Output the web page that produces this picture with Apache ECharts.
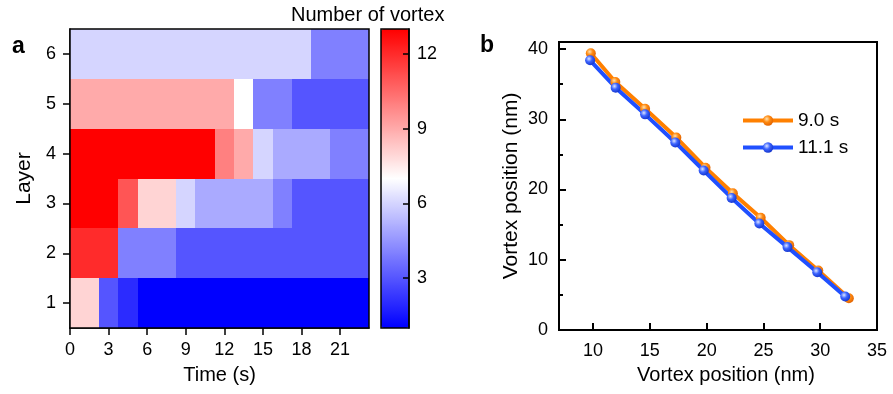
<!DOCTYPE html>
<html>
<head>
<meta charset="utf-8">
<script src="https://cdn.jsdelivr.net/npm/echarts@6/dist/echarts.min.js"></script>
<style>
  html, body { margin: 0; background: #fff; }
  #chart { width: 893px; height: 394px; }
</style>
</head>
<body>
<div id="chart"></div>
<script>
// panel a: number of vortices per layer, time bins are 1.5 s wide
const times = [0, 1.5, 3, 4.5, 6, 7.5, 9, 10.5, 12, 13.5, 15, 16.5, 18, 19.5, 21, 22.5];
const layers = [1, 2, 3, 4, 5, 6];
const layer1 = [8, 8, 3, 2, 1, 1, 1, 1, 1, 1, 1, 1, 1, 1, 1, 1];
const layer2 = [12, 12, 12, 4, 4, 4, 3, 3, 3, 3, 3, 3, 3, 3, 3, 3];
const layer3 = [13, 13, 13, 11, 8, 8, 6, 5, 5, 5, 5, 4, 3, 3, 3, 3];
const layer4 = [13, 13, 13, 13, 13, 13, 13, 13, 10, 9, 6, 5, 5, 5, 4, 4];
const layer5 = [9, 9, 9, 9, 9, 9, 9, 9, 9, 7, 4, 4, 3, 3, 3, 3];
const layer6 = [6, 6, 6, 6, 6, 6, 6, 6, 6, 6, 6, 6, 6, 4, 4, 4];
const timeTicks = [0, 3, 6, 9, 12, 15, 18, 21];
const countTicks = [3, 6, 9, 12];

// panel b: vortex positions at two moments
const posX_9s = [9.8, 11.96, 14.58, 17.33, 19.9, 22.31, 24.76, 27.27, 29.83, 32.52];
const posY_9s = [39.4, 35.3, 31.5, 27.4, 23.1, 19.46, 15.98, 12.08, 8.47, 4.52];
const posX_11s = [9.74, 11.99, 14.58, 17.24, 19.74, 22.2, 24.64, 27.12, 29.74, 32.2];
const posY_11s = [38.4, 34.5, 30.7, 26.7, 22.7, 18.8, 15.17, 11.8, 8.23, 4.76];
const posXTicks = [10, 15, 20, 25, 30, 35];
const posYTicks = [0, 10, 20, 30, 40];
const posYMinor = [5, 15, 25, 35];

const FONT = 'Liberation Sans';
const HALF_BIN = 0.75;
const T_MAX = 23.25;

const rows = [layer1, layer2, layer3, layer4, layer5, layer6];
const cells = [];
rows.forEach((row, r) => row.forEach((v, i) => cells.push([times[i], layers[r], v])));

const zip = (xs, ys) => xs.map((x, i) => [x, ys[i]]);

const sphere = (light, mid, dark) => ({
  type: 'radial', x: 0.38, y: 0.35, r: 0.7,
  colorStops: [{ offset: 0, color: light }, { offset: 0.45, color: mid }, { offset: 1, color: dark }]
});

const label = { color: '#000', fontFamily: FONT, fontSize: 18 };
const black = { color: '#000', width: 1.5 };

const option = {
  animation: false,
  backgroundColor: '#fff',
  textStyle: { fontFamily: FONT },
  graphic: [
    { type: 'text', left: 12, top: 35, style: { text: 'a', font: 'bold 23px "Liberation Sans"', fill: '#000' } },
    { type: 'text', left: 480, top: 34, style: { text: 'b', font: 'bold 23px "Liberation Sans"', fill: '#000' } },
    { type: 'text', left: 291, top: 5, style: { text: 'Number of vortex', font: '20px "Liberation Sans"', fill: '#000' } }
  ],
  grid: [
    { left: 70, top: 29, width: 299, height: 299, show: true, borderColor: '#000', borderWidth: 1.5, z: 10 },
    { left: 559, top: 42, width: 318, height: 288, show: true, borderColor: '#000', borderWidth: 2, z: 10 },
    { left: 381, top: 29, width: 28, height: 299, show: true, borderColor: '#000', borderWidth: 1.5, z: 10 }
  ],
  legend: {
    left: 736, top: 106, orient: 'vertical', itemWidth: 50, itemHeight: 13, itemGap: 8,
    textStyle: { color: '#000', fontFamily: FONT, fontSize: 19 },
    lineStyle: { width: 4 },
    data: ['9.0 s', '11.1 s']
  },
  visualMap: {
    type: 'continuous', seriesIndex: 0, dimension: 2, min: 1, max: 13,
    left: 381, top: 29, itemWidth: 28, itemHeight: 299, padding: 0,
    calculable: false, text: null, showLabel: false, hoverLink: false,
    inRange: { color: ['#0000ff', '#ffffff', '#ff0000'] }
  },
  xAxis: [
    {
      gridIndex: 0, type: 'value', min: 0, max: T_MAX,
      name: 'Time (s)', nameLocation: 'middle', nameGap: 37,
      nameTextStyle: { color: '#000', fontFamily: FONT, fontSize: 20 },
      axisLine: { onZero: false, lineStyle: black },
      axisTick: { length: 7, lineStyle: black, customValues: timeTicks },
      axisLabel: { ...label, margin: 13, customValues: timeTicks },
      splitLine: { show: false }
    },
    {
      gridIndex: 1, type: 'value', min: 7, max: 35,
      name: 'Vortex position (nm)', nameLocation: 'middle', nameGap: 35,
      nameTextStyle: { color: '#000', fontFamily: FONT, fontSize: 20, padding: [0, 0, 0, 16] },
      axisLine: { onZero: false, lineStyle: { color: '#000', width: 2 } },
      axisTick: { inside: true, length: 7, lineStyle: { color: '#000', width: 2 }, customValues: posXTicks },
      axisLabel: { ...label, margin: 12, customValues: posXTicks },
      splitLine: { show: false }
    },
    { gridIndex: 2, type: 'value', min: 0, max: 1, show: false }
  ],
  yAxis: [
    {
      gridIndex: 0, type: 'value', min: 0.5, max: 6.5,
      name: 'Layer', nameLocation: 'middle', nameGap: 35,
      nameTextStyle: { color: '#000', fontFamily: FONT, fontSize: 21 },
      axisLine: { onZero: false, lineStyle: black },
      axisTick: { length: 7, lineStyle: black, customValues: layers },
      axisLabel: { ...label, margin: 14, customValues: layers },
      splitLine: { show: false }
    },
    {
      gridIndex: 1, type: 'value', min: 0, max: 41,
      name: 'Vortex position (nm)', nameLocation: 'middle', nameGap: 37,
      nameTextStyle: { color: '#000', fontFamily: FONT, fontSize: 21 },
      axisLine: { onZero: false, lineStyle: { color: '#000', width: 2 } },
      axisTick: { inside: true, length: 7, lineStyle: { color: '#000', width: 2 }, customValues: posYTicks },
      axisLabel: { ...label, margin: 11, customValues: posYTicks },
      splitLine: { show: false }
    },
    {
      gridIndex: 1, type: 'value', min: 0, max: 41, position: 'left',
      axisLine: { show: false, onZero: false },
      axisTick: { inside: true, length: 4, lineStyle: { color: '#000', width: 2 }, customValues: posYMinor },
      axisLabel: { show: false },
      splitLine: { show: false }
    },
    {
      gridIndex: 2, type: 'value', min: 1, max: 13, position: 'right', z: 12,
      axisLine: { show: true, onZero: false, lineStyle: black },
      axisTick: { inside: true, length: 6, lineStyle: black, customValues: countTicks },
      axisLabel: { ...label, margin: 8, customValues: countTicks },
      splitLine: { show: false }
    }
  ],
  series: [
    {
      type: 'custom',
      xAxisIndex: 0, yAxisIndex: 0,
      encode: { x: 0, y: 1 },
      data: cells,
      renderItem: (params, api) => {
        const t = api.value(0);
        const layer = api.value(1);
        const p0 = api.coord([Math.max(t - HALF_BIN, 0), layer + 0.5]);
        const p1 = api.coord([Math.min(t + HALF_BIN, T_MAX), layer - 0.5]);
        const x0 = Math.round(p0[0]), y0 = Math.round(p0[1]);
        const x1 = Math.round(p1[0]), y1 = Math.round(p1[1]);
        return {
          type: 'rect',
          shape: { x: x0, y: y0, width: x1 - x0, height: y1 - y0 },
          style: { fill: api.visual('color') }
        };
      }
    },
    {
      name: '9.0 s', type: 'line', xAxisIndex: 1, yAxisIndex: 1,
      data: zip(posX_9s, posY_9s),
      symbol: 'circle', symbolSize: 10,
      lineStyle: { color: '#ff8000', width: 4 },
      itemStyle: { color: sphere('#ffe2b0', '#ff8a10', '#e06000') }
    },
    {
      name: '11.1 s', type: 'line', xAxisIndex: 1, yAxisIndex: 1,
      data: zip(posX_11s, posY_11s),
      symbol: 'circle', symbolSize: 10,
      lineStyle: { color: '#2050ff', width: 4 },
      itemStyle: { color: sphere('#dde5ff', '#3b63ff', '#1232c8') }
    }
  ]
};

const chart = echarts.init(document.getElementById('chart'), null, { renderer: 'canvas' });
chart.setOption(option);
</script>
</body>
</html>
